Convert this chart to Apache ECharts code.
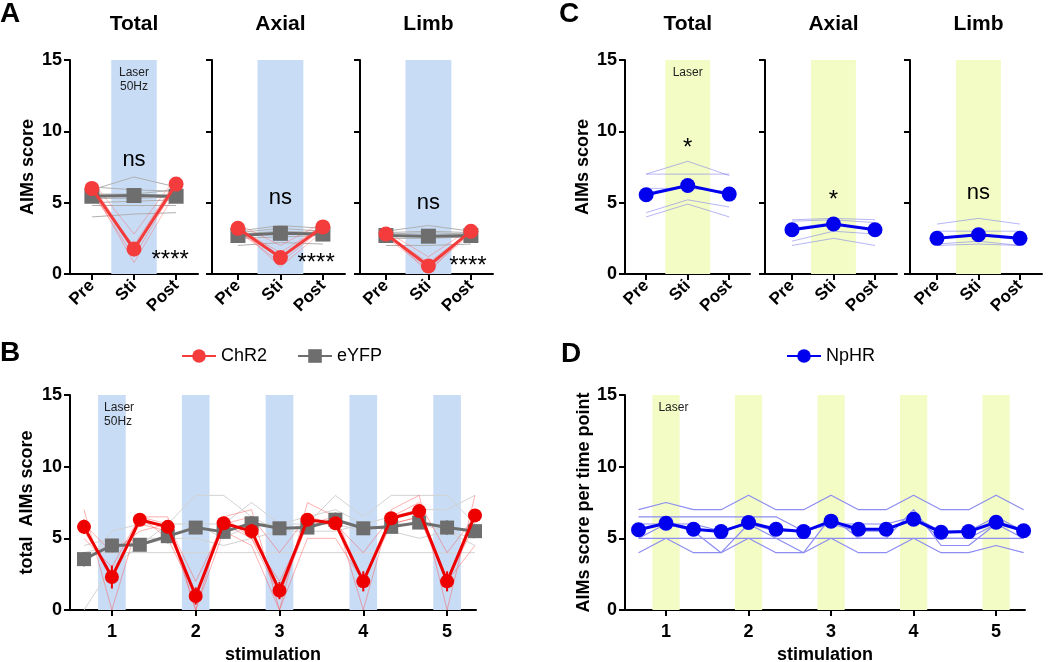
<!DOCTYPE html>
<html><head><meta charset="utf-8">
<script src="https://cdn.jsdelivr.net/npm/echarts@6/dist/echarts.min.js"></script>
<style>html,body{margin:0;padding:0;background:#fff}#c{width:1050px;height:662px}</style>
</head><body><div id="c"></div><script>
const FONT = 'Liberation Sans, Arial, Helvetica, sans-serif';
// ---------- categories / ticks ----------
const phaseLabels = ['Pre', 'Sti', 'Post'];
const phaseX = [1, 2, 3];
const subTitles = ['Total', 'Axial', 'Limb'];
const stimLabels = ['1', '2', '3', '4', '5'];
const stimCenters = [1, 2, 3, 4, 5];
const timePoints = [0.667, 1, 1.333, 1.667, 2, 2.333, 2.667, 3, 3.333, 3.667, 4, 4.333, 4.667, 5, 5.333];
const yTicks = [0, 5, 10, 15];

// ---------- Panel A (ChR2 / eYFP) ----------
const aTotalChR2 = [6.0, 1.75, 6.3];
const aTotalEYFP = [5.45, 5.5, 5.45];
const aTotalChR2Ind = [[6.5, 2.8, 6.8], [6.2, 1.5, 6.5], [5.8, 1.2, 6.2], [6.0, 0.8, 5.8], [5.5, 2.0, 6.6], [6.3, 1.8, 6.0]];
const aTotalEYFPInd = [[5.9, 6.8, 6.1], [6.1, 5.9, 5.8], [5.6, 5.6, 5.9], [5.3, 5.3, 5.4], [4.8, 4.8, 4.8], [4.0, 4.2, 4.3], [5.0, 5.1, 5.2]];
const aAxialChR2 = [3.2, 1.15, 3.3];
const aAxialEYFP = [2.7, 2.85, 2.8];
const aAxialChR2Ind = [[3.5, 2.0, 3.6], [3.2, 1.5, 3.4], [3.0, 0.8, 3.2], [3.3, 0.5, 3.0], [2.9, 1.2, 3.5]];
const aAxialEYFPInd = [[3.0, 3.4, 3.2], [2.8, 3.0, 2.9], [2.5, 2.6, 2.7], [2.0, 2.2, 2.1], [2.9, 3.2, 3.0]];
const aLimbChR2 = [2.8, 0.56, 3.0];
const aLimbEYFP = [2.7, 2.65, 2.7];
const aLimbChR2Ind = [[3.0, 1.2, 3.2], [2.8, 0.8, 3.0], [2.6, 0.3, 2.8], [2.9, 0.1, 3.1], [2.7, 0.5, 2.9]];
const aLimbEYFPInd = [[3.0, 3.4, 3.0], [2.8, 2.9, 2.8], [2.5, 2.5, 2.6], [2.0, 2.0, 2.1], [2.9, 3.0, 2.9]];

// ---------- Panel C (NpHR) ----------
const cTotalNpHR = [5.55, 6.2, 5.6];
const cTotalNpHRInd = [[7.0, 7.9, 6.9], [7.0, 7.0, 7.0], [5.7, 6.2, 5.5], [6.0, 6.0, 5.8], [4.3, 5.2, 4.7], [4.0, 4.9, 4.0]];
const cAxialNpHR = [3.1, 3.5, 3.1];
const cAxialNpHRInd = [[3.8, 3.9, 3.8], [3.7, 3.8, 3.6], [3.2, 3.6, 3.0], [2.3, 3.0, 2.8], [2.0, 2.5, 2.0]];
const cLimbNpHR = [2.5, 2.75, 2.5];
const cLimbNpHRInd = [[3.5, 3.9, 3.5], [3.0, 3.0, 3.0], [2.5, 2.7, 2.4], [2.1, 2.3, 2.0], [2.0, 2.1, 2.0]];

// ---------- Panel B (time course ChR2 / eYFP) ----------
const bChR2 = [5.8, 2.3, 6.3, 5.8, 0.98, 6.05, 5.5, 1.35, 6.3, 6.05, 2.0, 6.4, 6.9, 2.0, 6.6];
const bChR2Sem = [0.5, 0.8, 0.3, 0.4, 0.6, 0.3, 0.5, 0.6, 0.3, 0.3, 0.7, 0.3, 0.4, 0.7, 0.4];
const bEYFP = [3.55, 4.5, 4.55, 5.15, 5.75, 5.45, 6.05, 5.7, 5.75, 6.3, 5.7, 5.8, 6.1, 5.75, 5.5];
const bEYFPSem = [0.5, 0.3, 0.3, 0.5, 0.3, 0.4, 0.5, 0.3, 0.3, 0.5, 0.4, 0.4, 0.4, 0.5, 0.3];
const bChR2Ind = [
  [7, 0, 6.5, 6.5, 0, 6.5, 7, 0, 7.5, 6.5, 0, 7, 8, 0, 8],
  [6, 4, 5.5, 6, 2, 6, 6.5, 4, 6.5, 6, 4, 6.5, 7.5, 4, 6.5],
  [5, 3, 6.5, 5, 1, 6, 5, 2, 6, 6, 2, 6.5, 7, 2, 4.5],
  [6, 2, 6.5, 6, 0, 5.5, 4.5, 0, 5, 5, 2, 6, 6.5, 2, 6],
  [5.5, 2.5, 6, 5.5, 1, 6.5, 5, 1, 6, 6.5, 2, 6, 6.5, 2, 7]
];
const bEYFPInd = [
  [0, 3, 4.5, 6, 8, 8, 6.5, 5.5, 6, 8, 6.5, 8, 8, 8, 6],
  [3, 5.5, 6, 6, 6, 6, 7.5, 6, 6.5, 7, 6, 6.5, 7, 7, 8],
  [4, 4.5, 5, 5, 6, 5, 6, 6, 6, 6, 5.5, 6, 6, 5.5, 5],
  [4, 4, 4, 4, 4, 4, 4, 4, 4, 4, 4, 4, 4, 4, 4],
  [4.5, 5, 4.5, 5, 5, 4.5, 5, 5.5, 5.5, 5.5, 6, 5.5, 5, 5.5, 4.5]
];

// ---------- Panel D (time course NpHR) ----------
const dNpHR = [5.6, 6.05, 5.63, 5.47, 6.1, 5.63, 5.47, 6.2, 5.63, 5.63, 6.33, 5.42, 5.47, 6.12, 5.53];
const dNpHRInd = [
  [7, 7.5, 7, 7, 8, 7, 7, 8, 7, 7, 8, 7, 7, 8, 7],
  [6.5, 6.5, 6.5, 6.5, 6.5, 6.5, 5.5, 6, 5.5, 5.5, 6.5, 5, 5, 6, 5.5],
  [6, 6, 6, 5.5, 6, 5.5, 5.5, 6, 6, 6, 6.5, 5.5, 5.5, 6.5, 5.5],
  [5, 5, 5, 5, 5, 5, 5, 5, 5, 5, 5, 5, 5, 5, 5],
  [4, 5, 4, 4, 5, 4, 4, 5, 4, 4, 5, 4, 4, 4.5, 4],
  [5, 6, 5.5, 4, 6, 5, 4, 6.5, 5, 5, 7, 4.5, 4.5, 6, 5]
];

// ---------- annotations ----------
const aNotes = [
  [{ t: 'ns', x: 2, y: 8.0, s: 22 }, { t: '****', x: 2.86, y: 0.95, s: 24 }],
  [{ t: 'ns', x: 2, y: 5.3, s: 22 }, { t: '****', x: 2.84, y: 0.75, s: 24 }],
  [{ t: 'ns', x: 2, y: 5.0, s: 22 }, { t: '****', x: 2.93, y: 0.55, s: 24 }]
];
const cNotes = [
  [{ t: '*', x: 2, y: 8.8, s: 24 }],
  [{ t: '*', x: 2, y: 5.15, s: 24 }],
  [{ t: 'ns', x: 2, y: 5.7, s: 22 }]
];

// ---------- layout & style ----------
const RED_A = '#f43c3c', RED_B = '#ee0000', GRAY = '#6e6e6e', BLUE = '#0000ee';
const BAND_BLUE = '#c8dcf6', BAND_YEL = '#f3fcc4';
const A_layout = [
  { left: 70, width: 128, min: 0.48, max: 3.52 },
  { left: 212, width: 133, min: 0.39, max: 3.52 },
  { left: 360, width: 133, min: 0.39, max: 3.52 }
];
const C_layout = [
  { left: 625, width: 125, min: 0.49, max: 3.5 },
  { left: 765, width: 132, min: 0.35, max: 3.53 },
  { left: 910, width: 132, min: 0.35, max: 3.53 }
];
const B_layout = { left: 70, top: 395, width: 406, height: 215, min: 0.5, max: 5.345 };
const D_layout = { left: 625, top: 395, width: 400, height: 215, min: 0.503, max: 5.35 };
const TOP_AC = 60, H_AC = 214;
const phaseBandHalf = 0.54, stimBandHalf = 0.165;

const grids = [], xAxes = [], yAxes = [], series = [], graphics = [];

function axisPair(idx, lay, top, height, ticksX, labelsX, rotate, yName, showYLabels, xName, yNameGap) {
  grids.push({ left: lay.left, top: top, width: lay.width, height: height, containLabel: false, outerBoundsMode: 'none' });
  xAxes.push({
    type: 'value', gridIndex: idx, min: lay.min, max: lay.max,
    name: xName || '', nameLocation: 'middle', nameGap: 36,
    nameTextStyle: { fontFamily: FONT, fontWeight: 'bold', fontSize: 18, color: '#000' },
    axisLine: { show: true, onZero: false, lineStyle: { color: '#000', width: 2 } },
    axisTick: { show: true, customValues: ticksX, length: 6, lineStyle: { color: '#000', width: 2 } },
    axisLabel: {
      show: true, customValues: ticksX, rotate: rotate, margin: rotate ? 9 : 13,
      formatter: v => labelsX[ticksX.indexOf(v)] || '',
      fontFamily: FONT, fontWeight: 'bold', fontSize: rotate ? 17 : 18, color: '#000'
    },
    splitLine: { show: false }
  });
  yAxes.push({
    type: 'value', gridIndex: idx, min: 0, max: 15, interval: 5,
    name: yName || '', nameLocation: 'middle', nameGap: yNameGap || 33,
    nameTextStyle: { fontFamily: FONT, fontWeight: 'bold', fontSize: 18, color: '#000' },
    axisLine: { show: true, onZero: false, lineStyle: { color: '#000', width: 2 } },
    axisTick: { show: true, length: 6, lineStyle: { color: '#000', width: 2 } },
    axisLabel: { show: showYLabels, margin: 8, fontFamily: FONT, fontWeight: 'bold', fontSize: 18, color: '#000' },
    splitLine: { show: false }
  });
}

function bandSeries(idx, centers, half, color, labelText, labelPos) {
  const data = centers.map((c, i) => {
    const first = { xAxis: c - half };
    if (i === 0 && labelText) {
      first.name = labelText;
      first.label = {
        show: true, position: labelPos, distance: 6, formatter: '{b}',
        fontFamily: FONT, fontSize: 12, color: '#222', lineHeight: 14, align: labelPos === 'insideTop' ? 'center' : 'left'
      };
    }
    return [first, { xAxis: c + half }];
  });
  series.push({
    type: 'line', xAxisIndex: idx, yAxisIndex: idx, z: 1, silent: true,
    data: [[centers[0], -10]], showSymbol: false, lineStyle: { opacity: 0 },
    markArea: { silent: true, itemStyle: { color: color, opacity: 1 }, label: { show: false }, data: data }
  });
}

function indSeries(idx, xs, rows, color, width, z) {
  rows.forEach(r => series.push({
    type: 'line', xAxisIndex: idx, yAxisIndex: idx, z: z, silent: true,
    data: xs.map((x, i) => [x, r[i]]), showSymbol: false,
    lineStyle: { color: color, width: width }
  }));
}

function meanSeries(idx, name, xs, ys, color, symbol, size, z, notes) {
  const s = {
    type: 'line', name: name, xAxisIndex: idx, yAxisIndex: idx, z: z, silent: true,
    data: xs.map((x, i) => [x, ys[i]]), symbol: symbol, symbolSize: size, showSymbol: true,
    itemStyle: { color: color, opacity: 1 }, lineStyle: { color: color, width: 3 }
  };
  if (notes) {
    s.markPoint = {
      symbol: 'circle', symbolSize: 0, silent: true,
      data: notes.map(n => ({ coord: [n.x, n.y], name: n.t, label: { fontSize: n.s } })),
      label: { show: true, position: 'inside', formatter: '{b}', color: '#000', fontFamily: FONT }
    };
  }
  series.push(s);
}

function errSeries(idx, xs, ys, es, color, z) {
  series.push({
    type: 'custom', xAxisIndex: idx, yAxisIndex: idx, z: z, silent: true,
    data: xs.map((x, i) => [x, ys[i], es[i]]),
    renderItem: (params, api) => {
      const x = api.value(0), y = api.value(1), e = api.value(2);
      const p1 = api.coord([x, y - e]), p2 = api.coord([x, y + e]);
      return { type: 'line', shape: { x1: p1[0], y1: p1[1], x2: p2[0], y2: p2[1] }, style: { stroke: color, lineWidth: 2 } };
    }
  });
}

function centerX(lay, v) { return lay.left + (v - lay.min) / (lay.max - lay.min) * lay.width; }

// Panel A
const aMeansR = [aTotalChR2, aAxialChR2, aLimbChR2];
const aMeansG = [aTotalEYFP, aAxialEYFP, aLimbEYFP];
const aIndR = [aTotalChR2Ind, aAxialChR2Ind, aLimbChR2Ind];
const aIndG = [aTotalEYFPInd, aAxialEYFPInd, aLimbEYFPInd];
A_layout.forEach((lay, k) => {
  const idx = k;
  axisPair(idx, lay, TOP_AC, H_AC, phaseX, phaseLabels, 45, k === 0 ? 'AIMs score' : '', k === 0);
  bandSeries(idx, [2], phaseBandHalf, BAND_BLUE, k === 0 ? 'Laser\n50Hz' : '', 'insideTop');
  indSeries(idx, phaseX, aIndG[k], '#b0b0b0', 1, 2);
  indSeries(idx, phaseX, aIndR[k], 'rgba(255,90,90,0.4)', 1, 3);
  meanSeries(idx, 'eYFP', phaseX, aMeansG[k], GRAY, 'rect', 15, 4, null);
  meanSeries(idx, 'ChR2', phaseX, aMeansR[k], RED_A, 'circle', 15, 5, aNotes[k]);
  graphics.push({ type: 'text', x: centerX(lay, 2), y: 24, style: { text: subTitles[k], font: 'bold 21px ' + FONT, fill: '#000', textAlign: 'center', textVerticalAlign: 'middle' } });
});

// Panel C
const cMeans = [cTotalNpHR, cAxialNpHR, cLimbNpHR];
const cInd = [cTotalNpHRInd, cAxialNpHRInd, cLimbNpHRInd];
C_layout.forEach((lay, k) => {
  const idx = 3 + k;
  axisPair(idx, lay, TOP_AC, H_AC, phaseX, phaseLabels, 45, k === 0 ? 'AIMs score' : '', k === 0);
  bandSeries(idx, [2], phaseBandHalf, BAND_YEL, k === 0 ? 'Laser' : '', 'insideTop');
  indSeries(idx, phaseX, cInd[k], 'rgba(110,110,240,0.5)', 1, 2);
  meanSeries(idx, 'NpHR', phaseX, cMeans[k], BLUE, 'circle', 15, 5, cNotes[k]);
  graphics.push({ type: 'text', x: centerX(lay, 2), y: 24, style: { text: subTitles[k], font: 'bold 21px ' + FONT, fill: '#000', textAlign: 'center', textVerticalAlign: 'middle' } });
});

// Panel B
axisPair(6, B_layout, B_layout.top, B_layout.height, stimCenters, stimLabels, 0, 'total  AIMs score', true, 'stimulation', 34);
bandSeries(6, stimCenters, stimBandHalf, BAND_BLUE, 'Laser\n50Hz', 'insideTopLeft');
indSeries(6, timePoints, bEYFPInd, '#d2d2d2', 1, 2);
indSeries(6, timePoints, bChR2Ind, 'rgba(255,80,80,0.45)', 1, 3);
errSeries(6, timePoints, bEYFP, bEYFPSem, GRAY, 4);
meanSeries(6, 'eYFP', timePoints, bEYFP, GRAY, 'rect', 14, 4, null);
errSeries(6, timePoints, bChR2, bChR2Sem, RED_B, 5);
meanSeries(6, 'ChR2', timePoints, bChR2, RED_B, 'circle', 14, 5, null);

// Panel D
axisPair(7, D_layout, D_layout.top, D_layout.height, stimCenters, stimLabels, 0, 'AIMs score per time point', true, 'stimulation', 32);
bandSeries(7, stimCenters, stimBandHalf, BAND_YEL, 'Laser', 'insideTopLeft');
indSeries(7, timePoints, dNpHRInd, '#8c8cf2', 1.2, 2);
meanSeries(7, 'NpHR', timePoints, dNpHR, BLUE, 'circle', 15, 5, null);

// Panel letters
[['A', 10, 14], ['C', 569, 14], ['B', 10, 353], ['D', 571, 354]].forEach(p => graphics.push({
  type: 'text', x: p[1], y: p[2], style: { text: p[0], font: 'bold 28px ' + FONT, fill: '#000', textAlign: 'center', textVerticalAlign: 'middle' }
}));

const option = {
  animation: false,
  backgroundColor: '#fff',
  textStyle: { fontFamily: FONT },
  grid: grids, xAxis: xAxes, yAxis: yAxes, series: series, graphic: graphics,
  legend: [
    { data: ['ChR2', 'eYFP'], left: 181, top: 347, padding: 0, itemGap: 30, itemWidth: 34, itemHeight: 17,
      selectedMode: false, textStyle: { fontFamily: FONT, fontSize: 18, color: '#000' } },
    { data: ['NpHR'], left: 786, top: 347, padding: 0, itemWidth: 34, itemHeight: 17,
      selectedMode: false, textStyle: { fontFamily: FONT, fontSize: 18, color: '#000' } }
  ]
};
const chart = echarts.init(document.getElementById('c'), null, { renderer: 'canvas' });
chart.setOption(option);
</script></body></html>
